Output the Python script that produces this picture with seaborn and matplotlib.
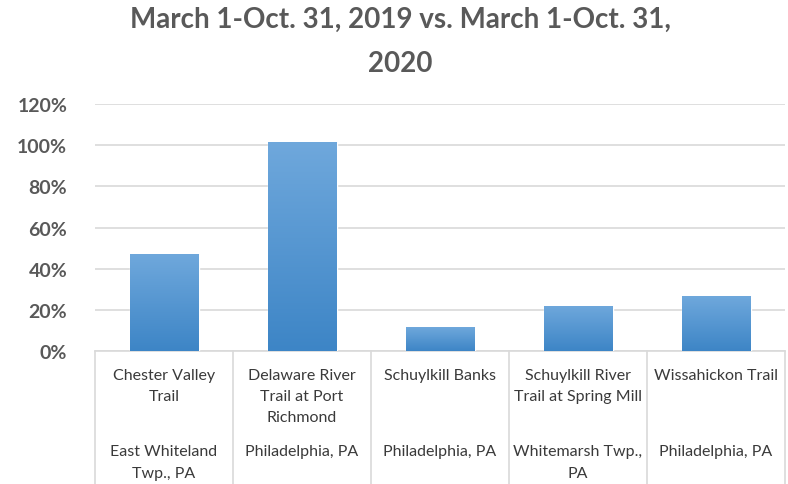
import numpy as np
import pandas as pd
import seaborn as sns
import matplotlib.pyplot as plt
from matplotlib.colors import LinearSegmentedColormap

# data
trails = ["Chester Valley\nTrail", "Delaware River\nTrail at Port\nRichmond", "Schuylkill Banks",
          "Schuylkill River\nTrail at Spring Mill", "Wissahickon Trail"]
locations = ["East Whiteland\nTwp., PA", "Philadelphia, PA", "Philadelphia, PA",
             "Whitemarsh Twp.,\nPA", "Philadelphia, PA"]
change = [0.47, 1.015, 0.115, 0.22, 0.265]
y_ticks = [0, 0.2, 0.4, 0.6, 0.8, 1.0, 1.2]
title = "March 1-Oct. 31, 2019 vs. March 1-Oct. 31,\n2020"

sns.set_style("white")
plt.rcParams['font.family'] = ['Lato', 'DejaVu Sans']

df = pd.DataFrame({"trail": trails, "change": change})

fig = plt.figure(figsize=(7.88, 4.85), dpi=100)
ax = fig.add_axes([0.1206, 0.2742, 0.8756, 0.5093])

sns.barplot(data=df, x="trail", y="change", color="#5b9bd5", width=0.5, ax=ax, zorder=3)

# gradient fill on the bars
cmap = LinearSegmentedColormap.from_list("bar", ["#3d85c6", "#6fa8dc"])
grad = np.linspace(0, 1, 256).reshape(-1, 1)
for p in ax.patches:
    x0, y0 = p.get_x(), p.get_y()
    w, h = p.get_width(), p.get_height()
    im = ax.imshow(grad, cmap=cmap, origin="lower", aspect="auto",
                   extent=[x0, x0 + w, y0, y0 + h], zorder=4)
    im.set_clip_path(p)

ax.set_xlim(-0.5, len(trails) - 0.5)
ax.set_ylim(0, 1.2)
ax.set_yticks(y_ticks)
ax.set_yticklabels([f"{int(round(t * 100))}%" for t in y_ticks],
                   fontsize=14, fontweight="bold", color="#595959")
ax.tick_params(axis="y", length=0, pad=20)
ax.set_xticks([])
ax.set_xlabel("")
ax.set_ylabel("")
ax.grid(axis="y", color="#d9d9d9", linewidth=1.2, zorder=0)
for s in ["top", "right", "left"]:
    ax.spines[s].set_visible(False)
ax.spines["bottom"].set_color("#d9d9d9")
ax.spines["bottom"].set_linewidth(1.2)

# two level category labels with separators
for i in range(len(trails) + 1):
    ax.plot([i - 0.5, i - 0.5], [0, -0.55], color="#d9d9d9", linewidth=1.2,
            transform=ax.get_xaxis_transform(), clip_on=False)
for i, (t, loc) in enumerate(zip(trails, locations)):
    ax.text(i, -0.068, t, transform=ax.get_xaxis_transform(), ha="center", va="top",
            fontsize=11.5, color="#3a3a3a", linespacing=1.65)
    ax.text(i, -0.378, loc, transform=ax.get_xaxis_transform(), ha="center", va="top",
            fontsize=11.5, color="#3a3a3a", linespacing=1.65)

fig.text(0.508, 0.985, title, ha="center", va="top", fontsize=20, fontweight="bold",
         color="#595959", linespacing=1.85)

fig.savefig("out.png", dpi=100)
